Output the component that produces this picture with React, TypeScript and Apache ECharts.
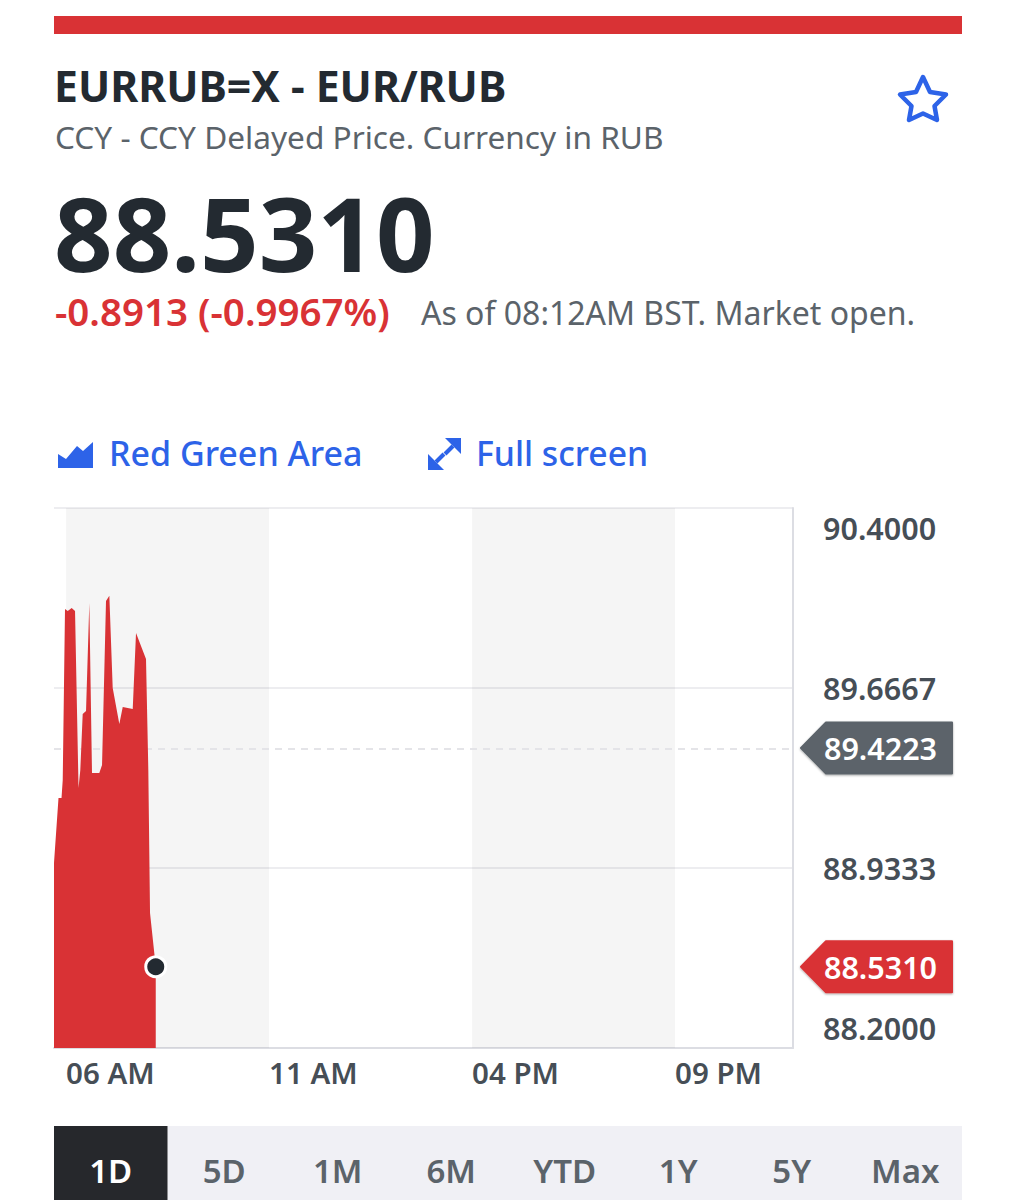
import React, { useEffect, useRef } from "react";
import * as echarts from "echarts";

const hours = [5.704, 5.815, 5.889, 5.919, 5.975, 6.042, 6.14, 6.222, 6.308, 6.352, 6.411, 6.493, 6.574, 6.64, 6.82, 6.887, 6.985, 7.067, 7.15, 7.313, 7.397, 7.643, 7.724, 7.97, 8.027, 8.069, 8.21];
const prices = [88.954, 89.219, 89.219, 89.292, 89.989, 89.98, 89.993, 89.98, 89.259, 89.333, 89.561, 89.573, 90.013, 89.32, 89.32, 89.353, 90.021, 90.042, 89.667, 89.52, 89.589, 89.581, 89.891, 89.785, 89.333, 88.75, 88.531];
const yTicks = [88.2, 88.9333, 89.6667, 90.4];
const xTicks = [6, 11, 16, 21];
const xTickLabels = ["06 AM", "11 AM", "04 PM", "09 PM"];
const shadedBands = [[6, 11], [16, 21]];
const previousClose = 89.4223;
const lastPrice = 88.531;
const ranges = ["1D", "5D", "1M", "6M", "YTD", "1Y", "5Y", "Max"];

const RED = "#d93235";
const BLUE = "#2d63e8";
const DARK = "#232a31";
const CELL = "#26282c";
const GRAY = "#5b636a";
const AXIS_TEXT = "#464e56";
const FONT = "'Noto Sans', 'Open Sans', sans-serif";

function txt(text: string, x: number, y: number, fontSize: number, fill: string, fontWeight: any = 400, textAlign = "left", lineHeight?: number) {
  return { type: "text", x, y, silent: true, style: { text, fontSize, fill, fontWeight, fontFamily: FONT, textAlign, textVerticalAlign: "middle", lineHeight } };
}

function tag(value: number, y: number, color: string) {
  return [
    {
      type: "polygon",
      silent: true,
      shape: { points: [[801, y], [826, y - 25.5], [952, y - 25.5], [952, y + 25.5], [826, y + 25.5]] },
      style: { fill: color, stroke: color, lineWidth: 2, lineJoin: "round", shadowBlur: 2, shadowOffsetY: 1, shadowColor: "rgba(0,0,0,0.35)" },
    },
    txt(value.toFixed(4), 880.5, y, 30.5, "#ffffff", 600, "center"),
  ];
}

function staticGraphics() {
  const cellW = 908 / ranges.length;
  return [
    { type: "rect", silent: true, shape: { x: 54, y: 16, width: 908, height: 18 }, style: { fill: RED } },
    txt("EURRUB=X - EUR/RUB", 54, 85, 42.7, DARK, 700),
    txt("CCY - CCY Delayed Price. Currency in RUB", 55, 136, 31.6, GRAY),
    txt("88.5310", 54, 232, 102.5, DARK, 700, "left", 70),
    txt("-0.8913 (-0.9967%)", 55, 311, 38.5, RED, 600),
    txt("As of 08:12AM BST. Market open.", 421, 312, 32, GRAY),
    {
      type: "polygon", silent: true,
      shape: { points: [[923, 77], [930, 92], [946, 94.5], [934.5, 106], [937, 120], [923, 113.5], [909, 120], [911.5, 106], [900, 94.5], [916, 92]] },
      style: { fill: "#ffffff", stroke: BLUE, lineWidth: 4.5, lineJoin: "round" },
    },
    {
      type: "polygon", silent: true,
      shape: { points: [[58, 454], [66, 459], [77, 446], [83, 451], [93, 442], [93, 468], [58, 468]] },
      style: { fill: BLUE },
    },
    txt("Red Green Area", 109, 453, 34, BLUE, 500),
    { type: "polygon", silent: true, shape: { points: [[445, 438], [461, 438], [461, 454]] }, style: { fill: BLUE } },
    { type: "polygon", silent: true, shape: { points: [[428, 454], [428, 470], [444, 470]] }, style: { fill: BLUE } },
    { type: "line", silent: true, shape: { x1: 453, y1: 446, x2: 445, y2: 454 }, style: { stroke: BLUE, lineWidth: 4 } },
    { type: "line", silent: true, shape: { x1: 436, y1: 462, x2: 444, y2: 454 }, style: { stroke: BLUE, lineWidth: 4 } },
    txt("Full screen", 476, 453, 33.7, BLUE, 500),
    { type: "rect", silent: true, shape: { x: 54, y: 1126, width: 908, height: 74 }, style: { fill: "#f0f0f5" } },
    { type: "rect", silent: true, shape: { x: 54, y: 1126, width: cellW, height: 74 }, style: { fill: CELL } },
    ...ranges.map((r, i) => txt(r, 54 + cellW * (i + 0.5), 1170, 33, i === 0 ? "#ffffff" : GRAY, 600, "center")),
  ];
}

export default function App() {
  const ref = useRef<HTMLDivElement>(null);
  useEffect(() => {
    const chart = echarts.init(ref.current!, null, { renderer: "svg" });
    const xMin = hours[0];
    const xMax = 23.905;
    chart.setOption({
      animation: false,
      backgroundColor: "#ffffff",
      grid: { left: 54, top: 508, width: 739, height: 540 },
      xAxis: {
        type: "value",
        min: xMin,
        max: xMax,
        splitLine: { show: false },
        axisLine: { show: true, onZero: false, lineStyle: { color: "#dcdde3", width: 2 } },
        axisTick: { show: false, customValues: xTicks },
        axisLabel: {
          customValues: xTicks,
          align: "left",
          margin: 9,
          fontSize: 29.5,
          fontWeight: 600,
          fontFamily: FONT,
          color: AXIS_TEXT,
          hideOverlap: false,
          showMinLabel: true,
          showMaxLabel: true,
          formatter: (v: number) => xTickLabels[xTicks.indexOf(v)] ?? "",
        },
      },
      yAxis: {
        type: "value",
        position: "right",
        min: yTicks[0],
        max: yTicks[yTicks.length - 1],
        axisLine: { show: true, onZero: false, lineStyle: { color: "#dcdde3", width: 2 } },
        axisTick: { show: false, customValues: yTicks },
        splitLine: { show: true, lineStyle: { color: "#ededf0", width: 2 } },
        axisLabel: {
          customValues: yTicks,
          margin: 30,
          fontSize: 30.5,
          fontWeight: 600,
          fontFamily: FONT,
          color: AXIS_TEXT,
          lineHeight: 40,
          verticalAlignMinLabel: "bottom",
          verticalAlignMaxLabel: "top",
          formatter: (v: number) => v.toFixed(4),
        },
      },
      series: [
        {
          type: "line",
          z: 1,
          silent: true,
          data: [],
          symbol: "none",
          markArea: {
            z: 1,
            silent: true,
            itemStyle: { color: "rgba(0,0,0,0.04)" },
            data: shadedBands.map(([a, b]) => [{ xAxis: a }, { xAxis: b }]),
          },
          markLine: {
            z: 1,
            silent: true,
            symbol: "none",
            label: { show: false },
            lineStyle: { color: "#e4e4e8", width: 2, type: [7, 6] },
            data: [{ yAxis: previousClose }],
          },
        },
        {
          type: "line",
          z: 2,
          silent: true,
          data: hours.map((h, i) => [h, prices[i]]),
          symbol: "none",
          lineStyle: { width: 0 },
          areaStyle: { color: RED, opacity: 1 },
          markPoint: {
            silent: true,
            symbol: "circle",
            symbolSize: 20,
            itemStyle: { color: DARK, borderColor: "#ffffff", borderWidth: 3 },
            label: { show: false },
            data: [{ coord: [hours[hours.length - 1], lastPrice] }],
          },
        },
      ],
    });
    const py = (v: number) => chart.convertToPixel({ yAxisIndex: 0 }, v) as number;
    chart.setOption({
      graphic: {
        elements: [...staticGraphics(), ...tag(previousClose, py(previousClose), GRAY), ...tag(lastPrice, py(lastPrice), RED)],
      },
    });
    return () => chart.dispose();
  }, []);
  return <div ref={ref} style={{ position: "absolute", left: 0, top: 0, width: 1016, height: 1200 }} />;
}
